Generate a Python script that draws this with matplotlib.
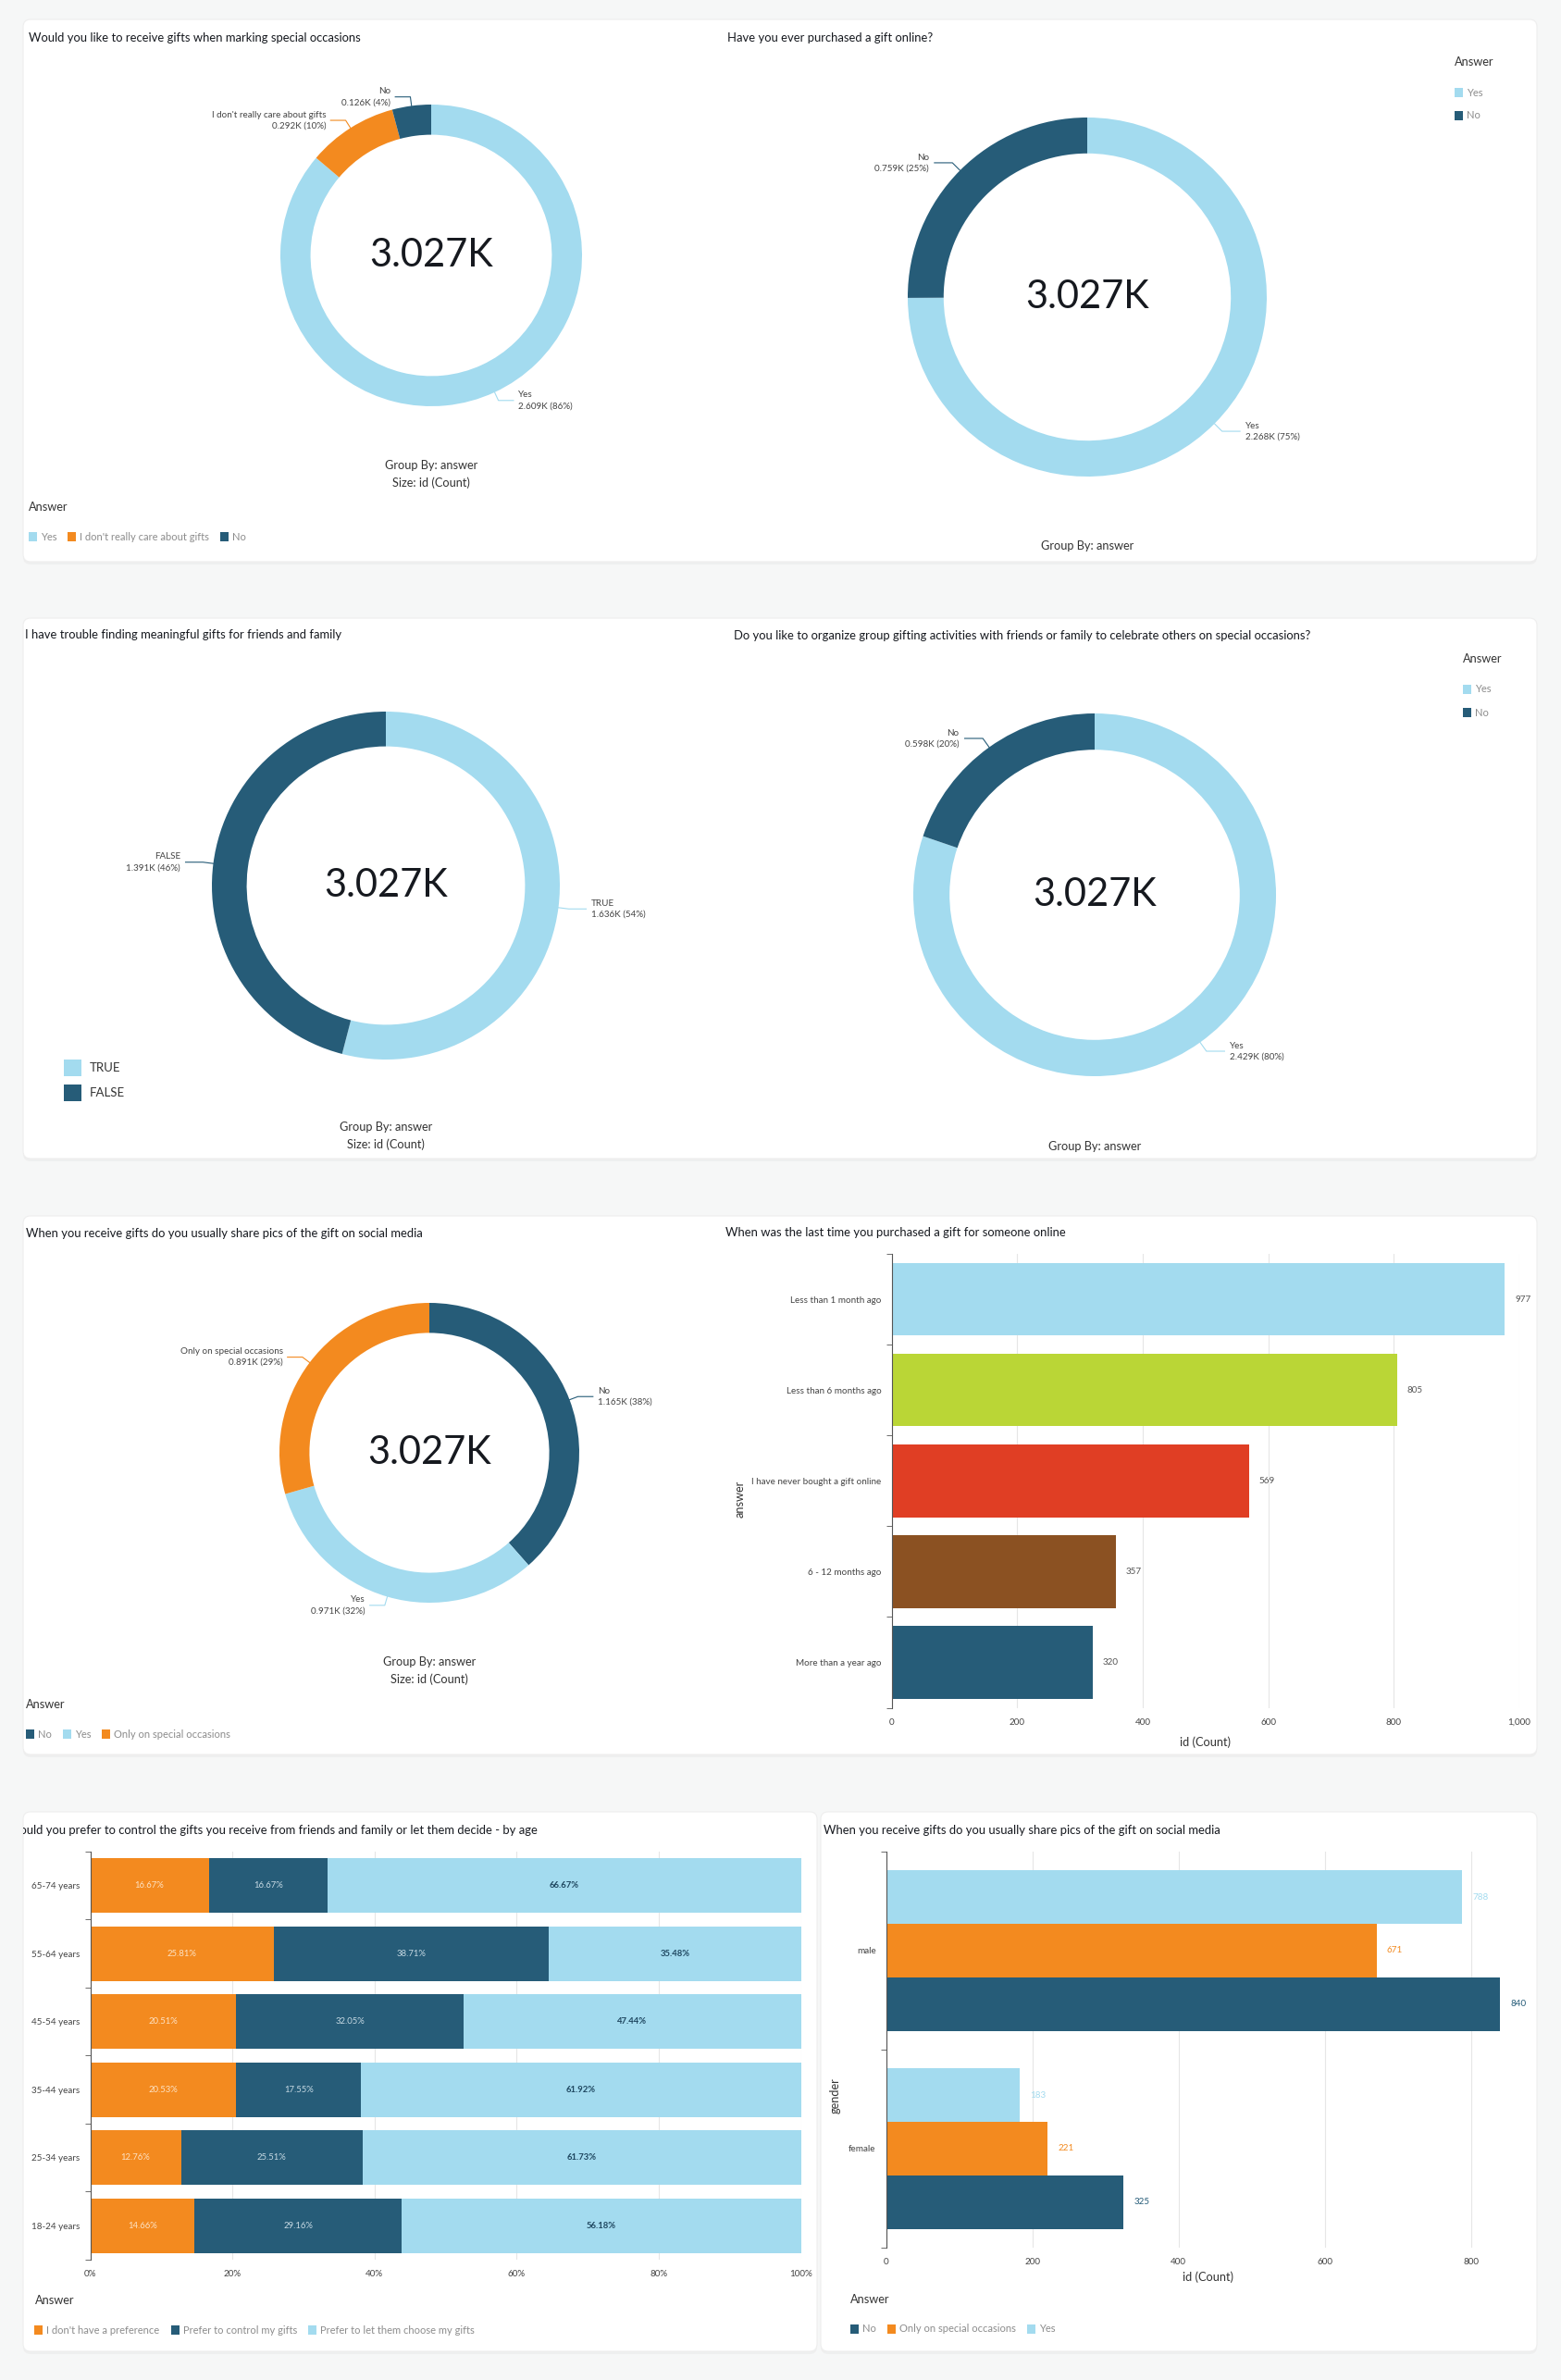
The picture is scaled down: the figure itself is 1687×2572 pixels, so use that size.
import matplotlib
matplotlib.use("Agg")
import matplotlib.pyplot as plt
import numpy as np
from matplotlib.patches import FancyBboxPatch, Rectangle

plt.rcParams['font.family'] = ['Lato', 'DejaVu Sans']

W, H = 1687, 2572

LIGHT = "#a3dbef"
DARK = "#265c78"
ORANGE = "#f38a1f"
LIME = "#bad636"
RED = "#e03e24"
BROWN = "#8b5122"
TEXT = "#16191f"
GREY = "#8c8c8c"

# ---- data ----
gifts_labels = ["Yes", "I don't really care about gifts", "No"]
gifts_counts = [2609, 292, 126]

online_labels = ["Yes", "No"]
online_counts = [2268, 759]

trouble_labels = ["TRUE", "FALSE"]
trouble_counts = [1636, 1391]

group_labels = ["Yes", "No"]
group_counts = [2429, 598]

share_labels = ["No", "Yes", "Only on special occasions"]
share_counts = [1165, 971, 891]

last_labels = ["Less than 1 month ago", "Less than 6 months ago",
               "I have never bought a gift online", "6 - 12 months ago",
               "More than a year ago"]
last_counts = [977, 805, 569, 357, 320]

age_groups = ["65-74 years", "55-64 years", "45-54 years",
              "35-44 years", "25-34 years", "18-24 years"]
pref_answers = ["I don't have a preference", "Prefer to control my gifts",
                "Prefer to let them choose my gifts"]
pref_none = [16.67, 25.81, 20.51, 20.53, 12.76, 14.66]
pref_control = [16.67, 38.71, 32.05, 17.55, 25.51, 29.16]
pref_let = [66.67, 35.48, 47.44, 61.92, 61.73, 56.18]

genders = ["male", "female"]
gender_answers = ["No", "Only on special occasions", "Yes"]
gender_no = [840, 325]
gender_special = [671, 221]
gender_yes = [788, 183]

TITLE_FS = 9.4
TICK_FS = 7.1
LABEL_FS = 9.2
LEG_FS = 8.0

fig = plt.figure(figsize=(W / 100, H / 100), dpi=100, facecolor="#f6f7f7")

# background layer with the white cards
bg = fig.add_axes([0, 0, 1, 1], zorder=0)
bg.set_xlim(0, W)
bg.set_ylim(H, 0)
bg.axis("off")


def card(x, y, w, h):
    bg.add_patch(FancyBboxPatch((x, y + 3), w, h, boxstyle="round,pad=0,rounding_size=8",
                                fc="#ececec", ec="none", alpha=0.7))
    bg.add_patch(FancyBboxPatch((x, y), w, h, boxstyle="round,pad=0,rounding_size=8",
                                fc="white", ec="#eeeeee", lw=0.8))


card(25, 21, 1636, 586)
card(25, 668, 1636, 584)
card(25, 1314, 1636, 582)
card(25, 1958, 858, 583)
card(887, 1958, 774, 583)

# overlay for titles / legends (1 unit = 1 pixel)
top = fig.add_axes([0, 0, 1, 1], zorder=10)
top.set_xlim(0, W)
top.set_ylim(H, 0)
top.axis("off")
top.patch.set_alpha(0)


def px_axes(x, y, w, h):
    return fig.add_axes([x / W, 1 - (y + h) / H, w / W, h / H], zorder=5)


def title(x, y, s):
    return top.text(x, y, s, fontsize=TITLE_FS, color=TEXT, va="center", ha="left")


def group_by(x, y, size=True):
    top.text(x, y, "Group By: answer", fontsize=LABEL_FS, color="#333333", ha="center", va="center")
    if size:
        top.text(x, y + 19, "Size: id (Count)", fontsize=LABEL_FS, color="#333333",
                 ha="center", va="center")


def hlegend(x, y, labels, colors):
    r = fig.canvas.get_renderer()
    top.text(x, y - 32, "Answer", fontsize=LABEL_FS, color="#333333", va="center")
    for lab, col in zip(labels, colors):
        top.add_patch(Rectangle((x, y - 5), 9, 10, fc=col, ec="none"))
        t = top.text(x + 13, y, lab, fontsize=LEG_FS, color=GREY, va="center")
        x += 13 + t.get_window_extent(renderer=r).width + 12


def vlegend(x, y, labels, colors):
    top.text(x, y - 33, "Answer", fontsize=LABEL_FS, color="#333333", va="center")
    for lab, col in zip(labels, colors):
        top.add_patch(Rectangle((x, y - 5), 9, 10, fc=col, ec="none"))
        top.text(x + 13, y, lab, fontsize=LEG_FS, color=GREY, va="center")
        y += 25


def donut(cx, cy, R, counts, labels, colors):
    ax = px_axes(cx - R, cy - R, 2 * R, 2 * R)
    wedges, _ = ax.pie(counts, colors=colors, startangle=90, counterclock=False,
                       wedgeprops=dict(width=0.2, edgecolor="none"))
    ax.set_xlim(-1, 1)
    ax.set_ylim(-1, 1)
    total = sum(counts)
    ax.text(0, 0, f"{total / 1000:.3f}K", ha="center", va="center", fontsize=30, color=TEXT)
    for w, v, lab, col in zip(wedges, counts, labels, colors):
        ang = np.deg2rad((w.theta1 + w.theta2) / 2)
        x0, y0 = np.cos(ang), np.sin(ang)
        x1, y1 = 1.06 * x0, 1.06 * y0
        side = 1 if x0 >= 0 else -1
        x2 = x1 + side * 0.1
        ax.plot([x0, x1, x2], [y0, y1, y1], color=col, lw=0.8, clip_on=False)
        ax.text(x2 + side * 0.03, y1, f"{lab}\n{v / 1000:.3f}K ({round(100 * v / total)}%)",
                ha="left" if side > 0 else "right", va="center", fontsize=7.1,
                color="#444444", clip_on=False, linespacing=1.4)
    return ax


def style_bar_axes(ax, n):
    ax.set_yticks(np.arange(-0.5, n, 1), minor=True)
    ax.tick_params(axis="y", which="major", length=0, labelsize=TICK_FS, labelcolor="#444444", pad=8)
    ax.tick_params(axis="y", which="minor", length=4, color="#555555")
    ax.tick_params(axis="x", length=0, labelsize=TICK_FS, labelcolor="#444444", pad=8)
    ax.grid(axis="x", color="#e6e6e6", lw=0.8)
    ax.set_axisbelow(True)
    for s in ["top", "right", "bottom"]:
        ax.spines[s].set_visible(False)
    ax.spines["left"].set_color("#555555")


# ---- row 1 ----
title(31, 41, "Would you like to receive gifts when marking special occasions")
donut(466, 276, 163, gifts_counts, gifts_labels, [LIGHT, ORANGE, DARK])
group_by(466, 503)
hlegend(31, 580, gifts_labels, [LIGHT, ORANGE, DARK])

title(786, 41, "Have you ever purchased a gift online?")
donut(1175, 321, 194, online_counts, online_labels, [LIGHT, DARK])
group_by(1175, 590, size=False)
vlegend(1572, 100, online_labels, [LIGHT, DARK])

# ---- row 2 ----
title(27, 686, "I have trouble finding meaningful gifts for friends and family")
donut(417, 957, 188, trouble_counts, trouble_labels, [LIGHT, DARK])
group_by(417, 1218)
for i, (lab, col) in enumerate(zip(trouble_labels, [LIGHT, DARK])):
    top.add_patch(Rectangle((69, 1145 + 27 * i), 19, 18, fc=col, ec="none"))
    top.text(97, 1154 + 27 * i, lab, fontsize=9.5, color="#333333", va="center")

title(793, 687, "Do you like to organize group gifting activities with friends or family "
                "to celebrate others on special occasions?")
donut(1183, 967, 196, group_counts, group_labels, [LIGHT, DARK])
group_by(1183, 1239, size=False)
vlegend(1581, 745, group_labels, [LIGHT, DARK])

# ---- row 3 ----
title(28, 1333, "When you receive gifts do you usually share pics of the gift on social media")
donut(464, 1570, 162, share_counts, share_labels, [DARK, LIGHT, ORANGE])
group_by(464, 1796)
hlegend(28, 1874, share_labels, [DARK, LIGHT, ORANGE])

title(784, 1332, "When was the last time you purchased a gift for someone online")
ax = px_axes(963.7, 1355, 678.3, 490.6)
bars = ax.barh(range(len(last_counts)), last_counts, height=0.8,
               color=[LIGHT, LIME, RED, BROWN, DARK])
ax.bar_label(bars, padding=8, fontsize=TICK_FS, color="#555555")
ax.set_ylim(len(last_counts) - 0.5, -0.5)
ax.set_xlim(0, 1000)
ax.set_xticks(range(0, 1001, 200))
ax.set_xticklabels(["0", "200", "400", "600", "800", "1,000"])
ax.set_yticks(range(len(last_labels)))
ax.set_yticklabels(last_labels)
style_bar_axes(ax, len(last_counts))
ax.set_xlabel("id (Count)", fontsize=LABEL_FS, color="#333333", labelpad=8)
top.text(800, 1620, "answer", rotation=90, fontsize=LABEL_FS, color="#333333",
         ha="center", va="center")

# ---- row 4 ----
t = title(8, 1978, "Would you prefer to control the gifts you receive from friends and family "
                   "or let them decide - by age")
t.set_clip_path(Rectangle((25, 1958), 858, 583, transform=top.transData))
t.set_clip_on(True)

ax = px_axes(97.6, 2000.8, 768, 441.2)
y = np.arange(len(age_groups))
left = np.zeros(len(age_groups))
seg_styles = [(pref_none, ORANGE, "#fde2c4", "normal"),
              (pref_control, DARK, "#c6d9e3", "normal"),
              (pref_let, LIGHT, "#1f4760", "bold")]
for vals, col, tcol, weight in seg_styles:
    vals = np.array(vals)
    ax.barh(y, vals, left=left, height=0.8, color=col)
    for yi, l, v in zip(y, left, vals):
        ax.text(l + v / 2, yi, f"{v:.2f}%", ha="center", va="center", fontsize=6.8,
                color=tcol, fontweight=weight)
    left += vals
ax.set_ylim(len(age_groups) - 0.5, -0.5)
ax.set_xlim(0, 100)
ax.set_xticks(range(0, 101, 20))
ax.set_xticklabels([f"{v}%" for v in range(0, 101, 20)])
ax.set_yticks(y)
ax.set_yticklabels(age_groups)
style_bar_axes(ax, len(age_groups))
hlegend(37.5, 2518, pref_answers, [ORANGE, DARK, LIGHT])

title(890, 1978, "When you receive gifts do you usually share pics of the gift on social media")
ax = px_axes(957.7, 2000.8, 695, 428.2)
g = np.arange(len(genders))
hgt = 0.27
series = [(gender_yes, LIGHT, -hgt), (gender_special, ORANGE, 0), (gender_no, DARK, hgt)]
for vals, col, off in series:
    b = ax.barh(g + off, vals, height=hgt, color=col)
    ax.bar_label(b, padding=8, fontsize=TICK_FS, color=col)
ax.set_ylim(len(genders) - 0.5, -0.5)
ax.set_xlim(0, 880)
ax.set_xticks(range(0, 801, 200))
ax.set_yticks(g)
ax.set_yticklabels(genders)
style_bar_axes(ax, len(genders))
ax.set_xlabel("id (Count)", fontsize=LABEL_FS, color="#333333", labelpad=4)
top.text(903, 2265, "gender", rotation=90, fontsize=LABEL_FS, color="#333333",
         ha="center", va="center")
hlegend(919, 2517, gender_answers, [DARK, ORANGE, LIGHT])

fig.savefig("out.png", dpi=100, facecolor=fig.get_facecolor())
